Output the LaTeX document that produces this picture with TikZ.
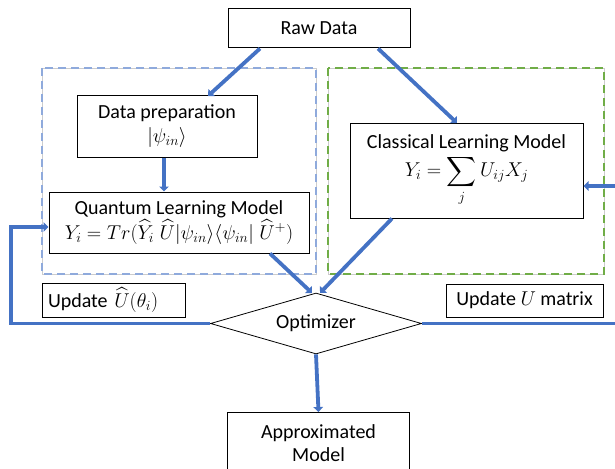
\RequirePackage{fix-cm}
\documentclass[tikz,border=0pt]{standalone}
\usepackage{amsmath}
\usepackage{fontspec}
\setmainfont{Carlito}
\usetikzlibrary{arrows.meta,shapes.geometric}
\definecolor{arrowblue}{HTML}{4472C4}
\definecolor{dashblue}{HTML}{8FAADC}
\definecolor{dashgreen}{HTML}{70AD47}
\begin{document}
\begin{tikzpicture}[x=1pt,y=-1pt,
  box/.style={draw=black,line width=1pt,fill=white,inner sep=0pt,align=center,font=\fontsize{20}{23}\selectfont},
  flow/.style={draw=arrowblue,line width=3.8pt,-{Triangle[width=9.5pt,length=5pt]}},
  flowline/.style={draw=arrowblue,line width=3.8pt},
  grp/.style={line width=1.6pt,dash pattern=on 8pt off 5pt}]
\useasboundingbox (0,0) rectangle (615,468);
% group frames
\draw[gray!40,line width=0.5pt] (42,68) rectangle (316,274);
\draw[grp,dashblue] (42,68) rectangle (316,274);
\draw[gray!40,line width=0.5pt] (328,68) rectangle (604,274);
\draw[grp,dashgreen] (328,68) rectangle (604,274);
% nodes
\node[box,minimum width=182pt,minimum height=39pt] (raw) at (319,28.5) {Raw Data};
\node[box,minimum width=180pt,minimum height=61pt] (prep) at (167,126.5) {Data preparation\\[1pt]$|\psi_{in}\rangle$};
\node[box,minimum width=260pt,minimum height=61pt] (qlm) at (179,222.5) {Quantum Learning Model\\$Y_i = Tr(\widehat{Y}_i\;\widehat{U}|\psi_{in}\rangle\langle\psi_{in}|\;\widehat{U}^{+})$};
\node[box,minimum width=233pt,minimum height=95pt] (clm) at (466.5,170.5) {Classical Learning Model\\[2pt]$\displaystyle Y_i = \sum_j U_{ij}X_j$};
\node[box,minimum width=143pt,minimum height=34pt,align=left,text width=131pt] (updq) at (113.5,300) {Update $\widehat{U}(\theta_i)$};
\node[box,minimum width=157pt,minimum height=33pt] (updc) at (524.5,300.5) {Update $U$ matrix};
\node[box,diamond,aspect=3.46,minimum width=211pt,minimum height=61pt,line width=0.8pt] (opt) at (316,323.5) {Optimizer};
\node[box,minimum width=182pt,minimum height=62pt,anchor=north] (approx) at (318.5,412) {Approximated\\Model};
% coordinates
\coordinate (lcorner1) at (11,323.5);
\coordinate (lcorner2) at (11,227);
\coordinate (rcorner1) at (620,323.5);
\coordinate (rcorner2) at (620,186);
% arrows
\draw[flow] (raw.south -| 260,0) -- (208,96);
\draw[flow] (raw.south -| 378,0) -- (457,123);
\draw[flow] (prep.south -| 164,0) -- (qlm.north -| 164,0);
\draw[flow] (qlm.south -| 270,0) -- (312,293);
\draw[flow] (clm.south -| 392,0) -- (320,293);
\draw[flow] (opt.south) -- (approx.north);
\draw[flowline] (opt.west) -- (lcorner1) -- (lcorner2);
\draw[flow] ([xshift=-1.9pt]lcorner2) -- (qlm.west |- lcorner2);
\draw[flowline] (opt.east) -- (rcorner1) -- (rcorner2);
\draw[flow] ([xshift=1.9pt]rcorner2) -- (clm.east |- rcorner2);
\end{tikzpicture}
\end{document}
